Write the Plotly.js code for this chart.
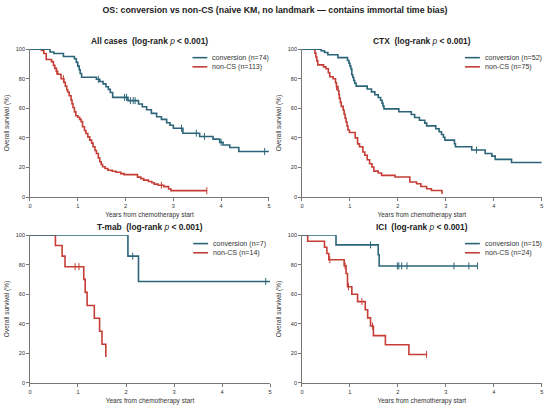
<!DOCTYPE html>
<html>
<head>
<meta charset="utf-8">
<script src="https://cdn.plot.ly/plotly-3.0.1.min.js"></script>
<style>html,body{margin:0;padding:0;background:#fff;}#chart{width:550px;height:409px;}</style>
</head>
<body>
<div id="chart"></div>
<script>
// ---------- data ----------
var panelTitles = ['All cases', 'CTX', 'T-mab', 'ICI'];
var pText = '  (log-rank <i>p</i> < 0.001)';
var nConv = [74, 52, 7, 15];
var nNon = [113, 75, 14, 24];

// All cases
var allConvT = [0, 0.42, 0.50, 0.70, 0.93, 0.97, 1.00, 1.03, 1.05, 1.08, 1.39, 1.46, 1.53, 1.59, 1.64, 1.68, 1.73, 2.05, 2.27, 2.35, 2.44, 2.54, 2.65, 2.75, 2.86, 2.93, 3.00, 3.20, 3.55, 3.83, 3.97, 4.04, 4.18, 4.37, 5.00];
var allConvS = [100, 98.0, 97.0, 95.0, 93.5, 91.0, 88.5, 86.0, 83.5, 81.0, 79.6, 78.1, 76.5, 74.6, 72.8, 70.7, 67.4, 65.2, 62.9, 61.0, 59.0, 56.6, 54.3, 52.5, 50.2, 48.6, 46.5, 43.2, 41.0, 39.2, 37.0, 35.2, 33.5, 30.8, 30.8];
var allConvCens = [1.43, 1.98, 2.02, 2.10, 2.16, 2.20, 3.17, 3.48, 3.65, 4.00, 4.91];
var allNonT = [0, 0.24, 0.29, 0.34, 0.45, 0.49, 0.52, 0.55, 0.58, 0.65, 0.71, 0.74, 0.77, 0.79, 0.82, 0.86, 0.88, 0.90, 0.93, 0.96, 1.00, 1.04, 1.07, 1.10, 1.14, 1.17, 1.21, 1.25, 1.29, 1.32, 1.36, 1.39, 1.43, 1.46, 1.49, 1.52, 1.57, 1.63, 1.72, 1.80, 1.90, 1.97, 2.25, 2.32, 2.38, 2.48, 2.55, 2.60, 2.68, 2.80, 2.90, 2.95, 3.70];
var allNonS = [100, 99, 97, 93, 91.5, 89, 87, 85, 83, 80, 77.5, 75, 72.5, 71, 68.5, 65.5, 63, 60.5, 57.6, 55, 54, 52.5, 51, 47.5, 45, 43, 40.7, 38.5, 36.5, 34, 31.5, 29.5, 26.5, 23.9, 22, 20.5, 19.3, 18.2, 17.5, 16.8, 15.9, 15.2, 13.5, 12.5, 11.5, 10.6, 9.7, 8.8, 8.0, 7.1, 5.5, 4.4, 4.4];
var allNonCens = [0.56, 0.70, 2.75, 3.70];

// CTX
var ctxConvT = [0, 0.40, 0.47, 0.54, 0.75, 0.95, 0.98, 1.00, 1.02, 1.04, 1.06, 1.08, 1.10, 1.13, 1.36, 1.45, 1.52, 1.59, 1.64, 1.67, 1.69, 1.71, 2.02, 2.28, 2.35, 2.45, 2.56, 2.60, 2.79, 2.86, 2.91, 2.95, 2.98, 3.18, 3.20, 3.54, 3.82, 3.96, 4.03, 4.37, 5.00];
var ctxConvS = [100, 98.9, 97.7, 96.2, 94.2, 92.3, 90.4, 88.5, 86.5, 82.7, 80.8, 78.8, 76.9, 75.0, 73.0, 71.1, 69.2, 67.3, 65.4, 63.5, 61.5, 59.6, 57.7, 55.8, 53.8, 51.9, 50.0, 48.1, 46.2, 44.2, 42.3, 40.4, 38.5, 36.1, 34.0, 31.8, 29.5, 27.7, 25.5, 23.4, 23.4];
var ctxConvCens = [3.64];
var ctxNonT = [0, 0.27, 0.29, 0.31, 0.33, 0.45, 0.50, 0.55, 0.58, 0.65, 0.70, 0.72, 0.75, 0.77, 0.78, 0.80, 0.82, 0.86, 0.88, 0.90, 0.92, 0.94, 0.96, 0.99, 1.11, 1.16, 1.20, 1.27, 1.31, 1.36, 1.41, 1.46, 1.50, 1.59, 1.66, 1.94, 2.25, 2.39, 2.48, 2.60, 2.70, 2.92, 2.94];
var ctxNonS = [100, 97.3, 94.7, 92, 89.3, 88, 86.7, 84, 81.3, 80, 77.3, 74.7, 72, 69.3, 66.7, 64, 61.3, 58.7, 56, 53.3, 50.7, 48, 45.3, 43.7, 40, 36, 34, 30.5, 28.3, 25.3, 22.6, 20.4, 17.6, 16.3, 14.7, 13.6, 10.2, 9.0, 7.2, 5.7, 4.5, 2.8, 2.8];
var ctxNonCens = [0.72];

// T-mab
var tmabConvT = [0, 2.04, 2.26, 5.00];
var tmabConvS = [100, 85.7, 68.6, 68.6];
var tmabConvCens = [2.14, 4.91];
var tmabNonT = [0, 0.53, 0.67, 0.73, 1.12, 1.15, 1.19, 1.34, 1.45, 1.50, 1.58];
var tmabNonS = [100, 92.9, 85.7, 78.6, 70.0, 61.2, 52.4, 43.7, 35.0, 26.2, 17.5];
var tmabNonCens = [0.94, 1.02];

// ICI
var iciConvT = [0, 0.71, 1.59, 1.61, 3.66];
var iciConvS = [100, 93.3, 86.7, 79.1, 79.1];
var iciConvCens = [1.43, 1.99, 2.02, 2.08, 2.19, 3.17, 3.48, 3.66];
var iciNonT = [0, 0.12, 0.47, 0.52, 0.56, 0.88, 0.92, 0.95, 1.04, 1.16, 1.32, 1.37, 1.43, 1.49, 1.74, 2.23, 2.60];
var iciNonS = [100, 95.8, 91.7, 87.5, 83.3, 79.2, 74.0, 65.0, 60.0, 55.0, 49.5, 44.0, 38.5, 32.0, 25.8, 19.3, 19.3];
var iciNonCens = [0.58, 0.90, 0.97, 1.25, 1.47, 2.60];

// ---------- drawing ----------
var BLUE = '#2c6579', RED = '#c53d35';
var FONT = 'Liberation Sans, Arial, Helvetica, sans-serif';

var panels = [
  {conv: [allConvT, allConvS, allConvCens], non: [allNonT, allNonS, allNonCens]},
  {conv: [ctxConvT, ctxConvS, ctxConvCens], non: [ctxNonT, ctxNonS, ctxNonCens]},
  {conv: [tmabConvT, tmabConvS, tmabConvCens], non: [tmabNonT, tmabNonS, tmabNonCens]},
  {conv: [iciConvT, iciConvS, iciConvCens], non: [iciNonT, iciNonS, iciNonCens]}
];

function survAt(T, S, t) {
  var v = S[0];
  for (var i = 0; i < T.length; i++) { if (T[i] <= t) v = S[i]; }
  return v;
}

var traces = [];
panels.forEach(function (p, k) {
  var xa = 'x' + (k === 0 ? '' : k + 1), ya = 'y' + (k === 0 ? '' : k + 1);
  [['non', RED], ['conv', BLUE]].forEach(function (g) {
    var d = p[g[0]];
    traces.push({x: d[0], y: d[1], xaxis: xa, yaxis: ya, type: 'scatter', mode: 'lines',
      line: {shape: 'hv', color: g[1], width: 1.6}, showlegend: false, hoverinfo: 'skip'});
    traces.push({x: d[2], y: d[2].map(function (t) { return survAt(d[0], d[1], t); }),
      xaxis: xa, yaxis: ya, type: 'scatter', mode: 'markers', cliponaxis: false,
      marker: {symbol: 'line-ns-open', size: 5, color: g[1], line: {color: g[1], width: 1}},
      showlegend: false, hoverinfo: 'skip'});
  });
});

function xax(dom) {
  return {domain: dom, range: [0, 5], tickvals: [0, 1, 2, 3, 4, 5], showgrid: false, zeroline: false,
    showline: true, linecolor: '#555', linewidth: 0.8, ticks: 'outside', ticklen: 3, tickwidth: 0.8,
    tickcolor: '#555', tickfont: {size: 5.6, color: '#333', family: FONT},
    title: {text: 'Years from chemotherapy start', font: {size: 6.5, color: '#333', family: FONT}, standoff: 4}};
}
function yax(dom, anchor) {
  return {domain: dom, range: [0, 100], tickvals: [0, 20, 40, 60, 80, 100], showgrid: false, zeroline: false,
    showline: true, linecolor: '#555', linewidth: 0.8, ticks: 'outside', ticklen: 3, tickwidth: 0.8,
    tickcolor: '#555', tickfont: {size: 5.6, color: '#333', family: FONT}, anchor: anchor,
    title: {text: 'Overall survival (%)', font: {size: 6.5, color: '#333', family: FONT}, standoff: 5}};
}

var xd = [[0.0545, 0.489], [0.549, 0.985], [0.0545, 0.491], [0.549, 0.985]];
var yd = [[0.518, 0.880], [0.518, 0.880], [0.0636, 0.4254], [0.0636, 0.4254]];

var layout = {
  width: 550, height: 409, margin: {l: 0, r: 0, t: 0, b: 0},
  paper_bgcolor: '#fff', plot_bgcolor: '#fff',
  font: {family: FONT, color: '#222'},
  showlegend: false,
  title: {text: '<b>OS: conversion vs non-CS (naive KM, no landmark — contains immortal time bias)</b>',
    font: {size: 8.8, color: '#222', family: FONT}, x: 0.5, xanchor: 'center', y: 0.975, yanchor: 'middle'},
  annotations: [], shapes: []
};
for (var k = 0; k < 4; k++) {
  var s = k === 0 ? '' : String(k + 1);
  var X = xax(xd[k]); X.anchor = 'y' + s;
  layout['xaxis' + s] = X;
  layout['yaxis' + s] = yax(yd[k], 'x' + s);
  // panel title
  layout.annotations.push({xref: 'x' + s + ' domain', yref: 'y' + s + ' domain', x: 0.5, y: 1.0, yshift: 8,
    xanchor: 'center', yanchor: 'middle', showarrow: false,
    text: '<b>' + panelTitles[k] + pText.replace('<i>p</i>', '</b><i>p</i><b>') + '</b>',
    font: {size: 8.4, color: '#222', family: FONT}});
  // legend (drawn manually to match compact spacing)
  var rows = [[BLUE, 'conversion (n=' + nConv[k] + ')', 0.942], [RED, 'non-CS (n=' + nNon[k] + ')', 0.88]];
  rows.forEach(function (r) {
    layout.shapes.push({type: 'line', xref: 'x' + s + ' domain', yref: 'y' + s + ' domain',
      x0: 0.68, x1: 0.742, y0: r[2], y1: r[2], line: {color: r[0], width: 1.6}});
    layout.annotations.push({xref: 'x' + s + ' domain', yref: 'y' + s + ' domain', x: 0.755, y: r[2],
      xanchor: 'left', yanchor: 'middle', showarrow: false, text: r[1],
      font: {size: 7.1, color: '#333', family: FONT}});
  });
}

Plotly.newPlot('chart', traces, layout, {staticPlot: true, displayModeBar: false});
</script>
</body>
</html>
